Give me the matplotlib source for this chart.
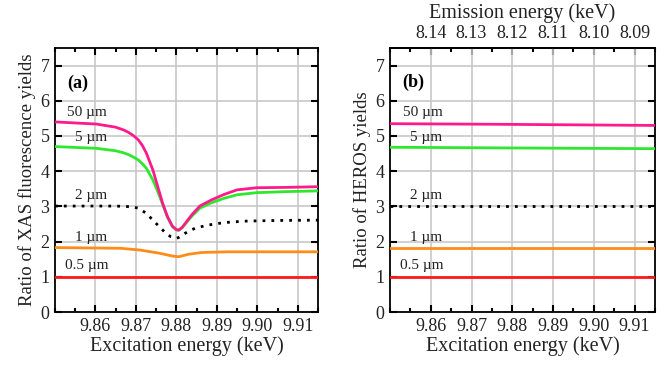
import numpy as np
import matplotlib
matplotlib.use("Agg")
import matplotlib.pyplot as plt
from matplotlib.ticker import MultipleLocator, FixedLocator

plt.rcParams['font.family'] = ['Liberation Serif', 'DejaVu Serif']

# ---- data (panel a: XAS fluorescence yield ratios) ----
x50_a = [9.8500, 9.8602, 9.8650, 9.8670, 9.8682, 9.8694, 9.8706, 9.8716, 9.8726,
         9.8742, 9.8754, 9.8766, 9.8778, 9.8790, 9.8800, 9.8806, 9.8814, 9.8822,
         9.8838, 9.8858, 9.8886, 9.8918, 9.8950, 9.8998, 9.9070, 9.9150]
y50_a = [5.40, 5.34, 5.25, 5.17, 5.10, 5.01, 4.89, 4.73, 4.51,
         4.03, 3.56, 3.09, 2.71, 2.44, 2.34, 2.33, 2.40, 2.52,
         2.76, 3.01, 3.18, 3.34, 3.47, 3.53, 3.54, 3.56]
x5_a = [9.8500, 9.8602, 9.8650, 9.8670, 9.8682, 9.8694, 9.8706, 9.8716, 9.8726,
        9.8742, 9.8754, 9.8766, 9.8778, 9.8790, 9.8800, 9.8806, 9.8814, 9.8822,
        9.8838, 9.8858, 9.8886, 9.8918, 9.8950, 9.8998, 9.9070, 9.9150]
y5_a = [4.70, 4.65, 4.58, 4.52, 4.47, 4.40, 4.32, 4.21, 4.08,
        3.75, 3.42, 3.06, 2.69, 2.43, 2.33, 2.32, 2.39, 2.50,
        2.72, 2.95, 3.10, 3.23, 3.33, 3.39, 3.42, 3.44]
x2_a = [9.8500, 9.8650, 9.8690, 9.8706, 9.8726, 9.8742, 9.8758, 9.8774, 9.8786,
        9.8800, 9.8806, 9.8822, 9.8846, 9.8878, 9.8918, 9.8966, 9.9046, 9.9150]
y2_a = [3.01, 3.01, 2.99, 2.95, 2.80, 2.61, 2.42, 2.24, 2.14,
        2.09, 2.12, 2.24, 2.38, 2.47, 2.54, 2.58, 2.60, 2.61]
x1_a = [9.8500, 9.8662, 9.8710, 9.8758, 9.8790, 9.8806, 9.8830, 9.8862, 9.8926, 9.9150]
y1_a = [1.83, 1.81, 1.76, 1.67, 1.59, 1.57, 1.64, 1.69, 1.71, 1.71]
x05_a = [9.850, 9.915]
y05_a = [1.0, 1.0]

# ---- data (panel b: HEROS yield ratios) ----
x_b = [9.850, 9.880, 9.915]
y50_b = [5.35, 5.33, 5.30]
y5_b = [4.68, 4.66, 4.64]
y2_b = [3.0, 3.0, 3.0]
y1_b = [1.82, 1.82, 1.82]
y05_b = [1.0, 1.0, 1.0]

labels = ['50 µm', '5 µm', '2 µm', '1 µm', '0.5 µm']
label_y = [5.66, 4.97, 3.32, 2.12, 1.31]
label_x = [9.8580, 9.8588, 9.8588, 9.8588, 9.8578]
colors = ['#ff1a8c', '#2ee82e', 'black', '#ff8c1a', '#ff1a1a']

x_ticks = [9.86, 9.87, 9.88, 9.89, 9.90, 9.91]
emis_ticks = [8.14, 8.13, 8.12, 8.11, 8.10, 8.09]

fig = plt.figure(figsize=(6.7, 3.65), dpi=100)
axa = fig.add_axes([0.0821, 0.1452, 0.3925, 0.7233])
axb = fig.add_axes([0.5821, 0.1452, 0.3955, 0.7233])

def style(ax):
    ax.set_xlim(9.850, 9.915)
    ax.set_ylim(0, 7.5)
    ax.xaxis.set_major_locator(FixedLocator(x_ticks))
    ax.xaxis.set_minor_locator(MultipleLocator(0.005))
    ax.yaxis.set_major_locator(MultipleLocator(1))
    ax.set_xticklabels([f'{t:.2f}' for t in x_ticks])
    ax.grid(True, which='major', color='#c8c8c8', lw=1.2)
    ax.set_axisbelow(True)
    ax.tick_params(which='major', direction='in', length=5, width=1.5,
                   labelsize=13, top=True, right=True, pad=4, labelcolor='#222222')
    ax.tick_params(which='minor', direction='in', length=3, width=1.5,
                   top=True, right=False, left=False)
    for s in ax.spines.values():
        s.set_linewidth(1.3)
    ax.set_xlabel('Excitation energy (keV)', fontsize=14.5, labelpad=1, color='#222222')

def draw(ax, xs, ys, lbl_y):
    for i, (x, y, c) in enumerate(zip(xs, ys, colors)):
        if c == 'black':
            ax.plot(x, y, color=c, lw=2, ls=(0, (1, 2.2)), zorder=3)
        else:
            ax.plot(x, y, color=c, lw=2, zorder=3 + (1 if i == 0 else 0),
                    solid_joinstyle='round')
    for lx, ly, t in zip(label_x, lbl_y, labels):
        ax.text(lx, ly, t, fontsize=11, ha='center', va='center', color='#222222')

style(axa)
style(axb)
draw(axa, [x50_a, x5_a, x2_a, x1_a, x05_a], [y50_a, y5_a, y2_a, y1_a, y05_a], label_y)
draw(axb, [x_b] * 5, [y50_b, y5_b, y2_b, y1_b, y05_b], label_y)

axa.set_ylabel('Ratio of XAS fluorescence yields', fontsize=13.5, labelpad=3, color='#222222')
axb.set_ylabel('Ratio of HEROS yields', fontsize=13.5, labelpad=3, color='#222222')
axa.text(9.8557, 6.51, '(a)', fontsize=13, fontweight='bold', ha='center', va='center')
axb.text(9.8557, 6.52, '(b)', fontsize=13, fontweight='bold', ha='center', va='center')

# top axis for panel b: emission energy
sec = axb.secondary_xaxis('top', functions=(lambda x: 18.0 - x, lambda e: 18.0 - e))
sec.xaxis.set_major_locator(FixedLocator(emis_ticks))
sec.xaxis.set_minor_locator(MultipleLocator(0.005))
sec.set_xticklabels([f'{t:.2f}' for t in emis_ticks])
sec.tick_params(which='major', direction='in', length=5, width=1.5, labelsize=13, pad=4,
                labelcolor='#222222')
sec.tick_params(which='minor', direction='in', length=3, width=1.5)
sec.spines['top'].set_linewidth(1.3)
sec.set_xlabel('Emission energy (keV)', fontsize=14.5, labelpad=5, color='#222222')
axb.tick_params(which='both', top=False)

fig.savefig('out.png', dpi=100)
